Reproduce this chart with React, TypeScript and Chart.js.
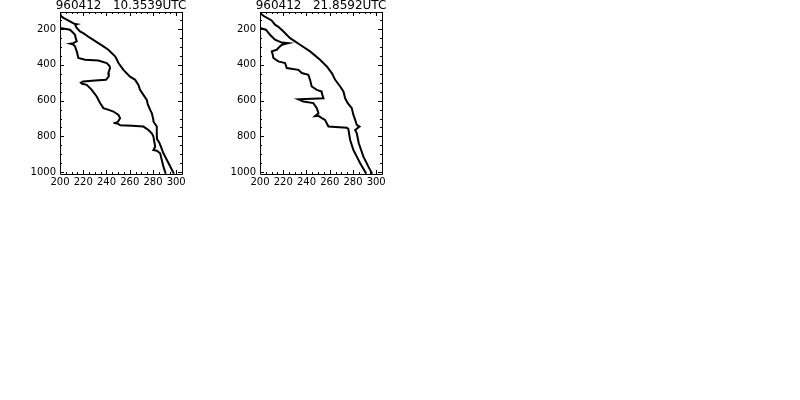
import { useEffect, useRef } from "react";
import { Chart, registerables } from "chart.js";

Chart.register(...registerables);

// ---- data ----
const panelTitles = ["960412   10.3539UTC", "960412   21.8592UTC"];
const xTickValues = [200, 220, 240, 260, 280, 300];
const yTickValues = [200, 400, 600, 800, 1000];
const X_MIN = 200;
const X_MAX = 305;
const Y_MIN = 105;
const Y_MAX = 1010;
const X_MINOR_STEP = 5;
const Y_MINOR_STEP = 50;

// [pressure hPa, temperature K]
const panel1Temperature: [number, number][] = [
  [110, 200], [129, 201], [138, 203], [157, 208.6], [170, 212], [173, 214.5], [176, 213],
  [194, 214.4], [213, 217.2], [223, 220], [250, 226], [279, 233], [300, 238], [316, 241.6],
  [353, 247.4], [372, 249], [390, 250.3], [428, 254.6], [465, 260], [484, 264.7], [512, 267.5],
  [540, 268.9], [568, 271.8], [596, 274.7], [620, 275.5], [652, 277.6], [670, 279], [708, 280.4],
  [717, 280.4], [745, 283.3], [792, 283.3], [815, 283.5], [835, 285.5], [860, 287], [894, 289],
  [932, 292], [969, 295], [1008, 298],
];
const panel1Dewpoint: [number, number][] = [
  [194, 200], [204, 208.6], [222, 211.5], [232, 212.9], [251, 213.5], [269, 214.4], [279, 211.5],
  [282, 209], [285, 211], [297, 212.9], [325, 214.4], [362, 215.8], [372, 221.6], [376, 233],
  [390, 240.2], [405, 242.5], [418, 243.1], [446, 241.6], [465, 242], [484, 239.5], [488, 230.2],
  [493, 220], [500, 218], [506, 219], [512, 223], [540, 227.3], [577, 231.6], [614, 234.5],
  [642, 237.3], [652, 242], [661, 246], [680, 250.3], [698, 251.7], [717, 250], [726, 247.4],
  [724, 246], [730, 250], [738, 252], [741, 262], [745, 271.8], [764, 276.1], [783, 279],
  [801, 280.4], [857, 281.9], [876, 280.4], [880, 283.3], [894, 286.2], [932, 287.6], [969, 289],
  [1008, 291],
];
const panel2Temperature: [number, number][] = [
  [110, 200], [126, 202.9], [152, 210], [176, 212.9], [188, 215.8], [213, 220], [251, 225.9],
  [288, 234.5], [325, 243.1], [372, 251.7], [409, 257.5], [446, 261.8], [484, 264.7], [521, 269],
  [549, 271.8], [587, 273.3], [614, 275.5], [642, 279], [680, 280.4], [708, 281.9], [736, 283.3],
  [745, 285.6], [764, 281.9], [783, 283.3], [838, 285], [913, 289], [969, 293.3], [1008, 296.5],
];
const panel2Dewpoint: [number, number][] = [
  [194, 200], [204, 205], [232, 208.6], [260, 212.9], [276, 218.7], [279, 224.4], [283, 222],
  [288, 219], [297, 217.2], [316, 214.4], [325, 210.1], [344, 211], [362, 211.5], [381, 215.8],
  [390, 221.6], [418, 223], [428, 233], [446, 236], [456, 241.6], [484, 243.1], [521, 244.5],
  [540, 248.9], [549, 253], [558, 253.2], [587, 254.6], [590, 245], [593, 233], [605, 237.3],
  [614, 245.9], [642, 248.9], [670, 250.3], [686, 247.4], [684, 250], [698, 253.2], [708, 256],
  [745, 258.9], [752, 274.7], [758, 276], [820, 277.6], [876, 280.4], [913, 283.3], [950, 286.2],
  [997, 290.5], [1008, 291.5],
];

const FONT = "'DejaVu Sans', sans-serif";

function toPoints(rows: [number, number][]) {
  return rows.map(([p, t]) => ({ x: t, y: p }));
}

function makeFramePlugin(title: string) {
  return {
    id: "frameTicks",
    afterDraw(chart: any) {
      const { ctx, chartArea } = chart;
      const xs = chart.scales.x;
      const ys = chart.scales.y;
      const L = chartArea.left, R = chartArea.right, T = chartArea.top, B = chartArea.bottom;
      const al = (v: number) => Math.round(v) + 0.5;
      ctx.save();
      ctx.strokeStyle = "#000";
      ctx.lineWidth = 1;
      ctx.beginPath();
      ctx.rect(al(L), al(T), Math.round(R) - Math.round(L), Math.round(B) - Math.round(T));
      ctx.stroke();
      ctx.beginPath();
      for (let v = X_MIN; v <= X_MAX + 1e-6; v += X_MINOR_STEP) {
        const major = xTickValues.includes(v);
        const len = major ? 4 : 2;
        const px = al(xs.getPixelForValue(v));
        ctx.moveTo(px, T);
        ctx.lineTo(px, T + len);
        ctx.moveTo(px, B);
        ctx.lineTo(px, B - len);
      }
      const yStart = Math.ceil(Y_MIN / Y_MINOR_STEP) * Y_MINOR_STEP;
      for (let v = yStart; v <= Y_MAX + 1e-6; v += Y_MINOR_STEP) {
        const major = yTickValues.includes(v);
        const len = major ? 4 : 2;
        const py = al(ys.getPixelForValue(v));
        ctx.moveTo(L, py);
        ctx.lineTo(L + len, py);
        ctx.moveTo(R, py);
        ctx.lineTo(R - len, py);
      }
      ctx.stroke();
      ctx.fillStyle = "#000";
      ctx.font = `12px ${FONT}`;
      ctx.textAlign = "center";
      ctx.textBaseline = "alphabetic";
      ctx.fillText(title, (L + R) / 2, 8.5);
      ctx.restore();
    },
  };
}

function Panel({ left, title, temp, dew }: { left: number; title: string; temp: [number, number][]; dew: [number, number][] }) {
  const ref = useRef<HTMLCanvasElement>(null);
  useEffect(() => {
    const lineStyle = {
      showLine: true,
      borderColor: "#000",
      backgroundColor: "#000",
      borderWidth: 2,
      pointRadius: 0,
      tension: 0,
      fill: false,
    };
    const chart = new Chart(ref.current as HTMLCanvasElement, {
      type: "scatter",
      data: {
        datasets: [
          { label: "T", data: toPoints(temp), ...lineStyle },
          { label: "Td", data: toPoints(dew), ...lineStyle },
        ],
      },
      options: {
        responsive: false,
        animation: false,
        layout: { padding: { top: 12, right: 18, left: 0, bottom: 0 } },
        plugins: {
          legend: { display: false },
          tooltip: { enabled: false },
          title: { display: false },
        },
        scales: {
          x: {
            type: "linear",
            position: "bottom",
            min: X_MIN,
            max: X_MAX,
            grid: { display: false, drawTicks: false },
            border: { display: false },
            afterBuildTicks: (s: any) => {
              s.ticks = xTickValues.map((v) => ({ value: v }));
            },
            afterFit: (s: any) => {
              s.height = 26;
            },
            ticks: {
              color: "#000",
              font: { family: FONT, size: 10 },
              padding: 2,
              maxRotation: 0,
              autoSkip: false,
              callback: (v: any) => String(v),
            },
          },
          y: {
            type: "linear",
            reverse: true,
            min: Y_MIN,
            max: Y_MAX,
            grid: { display: false, drawTicks: false },
            border: { display: false },
            afterBuildTicks: (s: any) => {
              s.ticks = yTickValues.map((v) => ({ value: v }));
            },
            afterFit: (s: any) => {
              s.width = 60;
            },
            ticks: {
              color: "#000",
              font: { family: FONT, size: 10 },
              padding: 4,
              autoSkip: false,
              callback: (v: any) => String(v),
            },
          },
        },
      } as any,
      plugins: [makeFramePlugin(title)],
    });
    return () => chart.destroy();
  }, []);
  return (
    <canvas
      ref={ref}
      width={200}
      height={200}
      style={{ position: "absolute", left, top: 0, width: 200, height: 200 }}
    />
  );
}

export default function App() {
  return (
    <div style={{ position: "fixed", left: 0, top: 0, width: 800, height: 400, background: "#fff" }}>
      <Panel left={0} title={panelTitles[0]} temp={panel1Temperature} dew={panel1Dewpoint} />
      <Panel left={200} title={panelTitles[1]} temp={panel2Temperature} dew={panel2Dewpoint} />
    </div>
  );
}
